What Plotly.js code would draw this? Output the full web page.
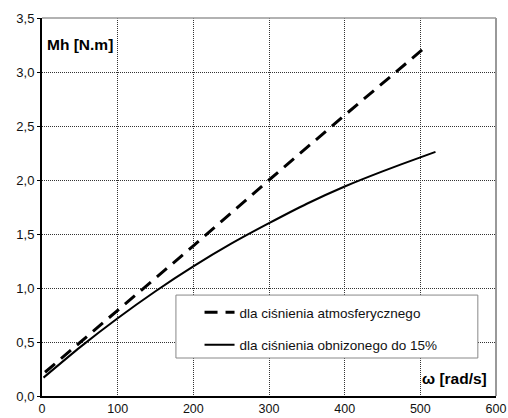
<!DOCTYPE html>
<html>
<head>
<meta charset="utf-8">
<script src="https://cdn.plot.ly/plotly-3.0.1.min.js"></script>
<style>body{margin:0;padding:0;background:#fff}#chart{width:508px;height:418px}</style>
</head>
<body>
<div id="chart"></div>
<script>
// Data
const omegaAtm = [4, 100, 200, 300, 400, 505];
const mhAtm = [0.22, 0.79, 1.39, 2.0, 2.6, 3.22];
const omegaLow = [2, 50, 100, 150, 200, 250, 300, 350, 400, 450, 500, 520];
const mhLow = [0.17, 0.45, 0.72, 0.97, 1.20, 1.41, 1.60, 1.78, 1.94, 2.08, 2.21, 2.26];
const seriesNames = ["dla ciśnienia atmosferycznego", "dla ciśnienia obnizonego do 15%"];
const xTicks = [0, 100, 200, 300, 400, 500, 600];
const yTicks = [0, 0.5, 1.0, 1.5, 2.0, 2.5, 3.0, 3.5];

const font = "Liberation Sans, Arial, sans-serif";
const traces = [
  {x: omegaAtm, y: mhAtm, mode: "lines", name: seriesNames[0], legendgroup: "a",
   line: {color: "#000", width: 3, dash: "13px,8px"}},
  {x: omegaLow, y: mhLow, mode: "lines", name: seriesNames[1], legendgroup: "b",
   line: {color: "#000", width: 2, shape: "spline", smoothing: 0.5}}
];
const layout = {
  width: 508, height: 418,
  margin: {l: 42, r: 12, t: 18, b: 22},
  paper_bgcolor: "#fff", plot_bgcolor: "#fff",
  separators: ",.",
  font: {family: font, size: 13, color: "#111"},
  showlegend: true,
  legend: {x: 0.347, y: 0.262, xanchor: "left", yanchor: "top",
    bgcolor: "rgba(0,0,0,0)", borderwidth: 0,
    font: {family: font, size: 13.5, color: "#111"},
    tracegroupgap: 12, traceorder: "grouped", itemwidth: 30},
  xaxis: {range: [0, 600], tickvals: xTicks, showline: true, linecolor: "#000", linewidth: 2,
    ticks: "", ticklabelstandoff: 0, showgrid: true, gridcolor: "#333",
    griddash: "1px,1px", gridwidth: 1, zeroline: false, tickfont: {size: 12.5, color: "#111"}},
  yaxis: {range: [0, 3.5], tickvals: yTicks, tickformat: ".1f", showline: true, linecolor: "#000", linewidth: 2,
    ticks: "outside", ticklen: 3, tickcolor: "#000", showgrid: true, gridcolor: "#333",
    griddash: "1px,1px", gridwidth: 1, zeroline: false, tickfont: {size: 13, color: "#111"}},
  shapes: [
    {type: "line", xref: "paper", yref: "paper", x0: 0, x1: 1, y0: 1, y1: 1, line: {color: "#999", width: 1.5}},
    {type: "line", xref: "paper", yref: "paper", x0: 1, x1: 1, y0: 0, y1: 1, line: {color: "#999", width: 2}},
    {type: "rect", xref: "paper", yref: "paper", x0: 0.295, x1: 0.960, y0: 0.1005, y1: 0.267,
     fillcolor: "#fff", line: {color: "#888", width: 1}, layer: "above"}
  ],
  annotations: [
    {text: "<b>Mh [N.m]</b>", xref: "paper", yref: "paper", x: 0.006, y: 0.93, xanchor: "left", yanchor: "middle",
     showarrow: false, font: {family: font, size: 15.5, color: "#000"}},
    {text: "<b>ω [rad/s]</b>", xref: "paper", yref: "paper", x: 0.985, y: 0.045, xanchor: "right", yanchor: "middle",
     showarrow: false, font: {family: font, size: 15.5, color: "#000"}}
  ]
};
Plotly.newPlot("chart", traces, layout, {displayModeBar: false, staticPlot: true});
</script>
</body>
</html>
